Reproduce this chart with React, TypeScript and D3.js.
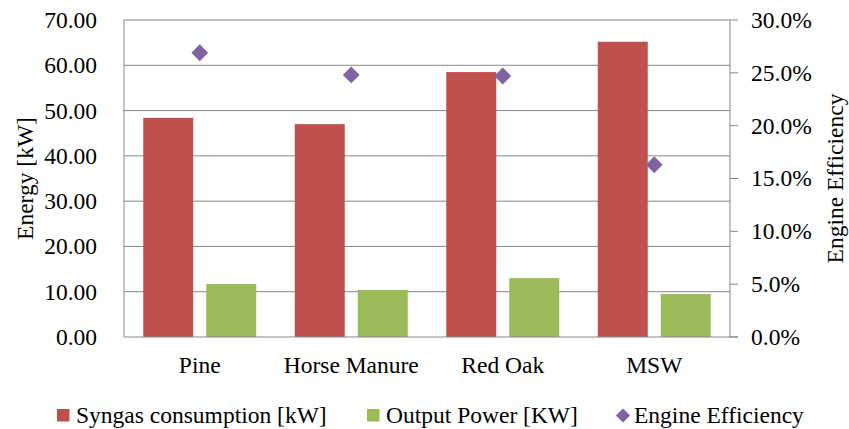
import React, { useEffect, useRef } from 'react';
import * as d3 from 'd3';

const categories = ['Pine', 'Horse Manure', 'Red Oak', 'MSW'];
const syngasConsumption = [48.4, 47.0, 58.5, 65.2];
const outputPower = [11.7, 10.4, 13.0, 9.5];
const engineEfficiency = [0.269, 0.248, 0.247, 0.163];
const leftTicks = [0, 10, 20, 30, 40, 50, 60, 70];
const rightTicks = [0, 0.05, 0.1, 0.15, 0.2, 0.25, 0.3];

const RED = '#C0504D';
const GREEN = '#9BBB59';
const PURPLE = '#8064A2';
const GRID = '#868686';
const FONT = '"Liberation Serif", "Times New Roman", serif';

const App: React.FC = () => {
  const svgRef = useRef<SVGSVGElement>(null);

  useEffect(() => {
    if (!svgRef.current) return;
    const svg = d3.select(svgRef.current);
    svg.selectAll('*').remove();

    const left = 124, right = 730, top = 20, bottom = 337;

    const x = d3.scaleBand().domain(categories).range([left, right]);
    const yL = d3.scaleLinear().domain([0, 70]).range([bottom, top]);
    const yR = d3.scaleLinear().domain([0, 0.3]).range([bottom, top]);

    const barW = 50;
    const gap = 13;
    const pad = (x.bandwidth() - 2 * barW - gap) / 2;

    // gridlines
    svg.append('g')
      .selectAll('line')
      .data(leftTicks.slice(1))
      .enter()
      .append('line')
      .attr('x1', left)
      .attr('x2', right)
      .attr('y1', d => yL(d))
      .attr('y2', d => yL(d))
      .attr('stroke', GRID)
      .attr('stroke-width', 1);

    // bars
    svg.append('g')
      .selectAll('rect')
      .data(categories)
      .enter()
      .append('rect')
      .attr('x', d => (x(d) || 0) + pad)
      .attr('y', (d, i) => yL(syngasConsumption[i]))
      .attr('width', barW)
      .attr('height', (d, i) => bottom - yL(syngasConsumption[i]))
      .attr('fill', RED);

    svg.append('g')
      .selectAll('rect')
      .data(categories)
      .enter()
      .append('rect')
      .attr('x', d => (x(d) || 0) + pad + barW + gap)
      .attr('y', (d, i) => yL(outputPower[i]))
      .attr('width', barW)
      .attr('height', (d, i) => bottom - yL(outputPower[i]))
      .attr('fill', GREEN);

    // axes lines
    svg.append('line')
      .attr('x1', left).attr('x2', left).attr('y1', top).attr('y2', bottom)
      .attr('stroke', GRID);
    svg.append('line')
      .attr('x1', right).attr('x2', right).attr('y1', top).attr('y2', bottom)
      .attr('stroke', GRID);
    svg.append('line')
      .attr('x1', left).attr('x2', right + 8).attr('y1', bottom).attr('y2', bottom)
      .attr('stroke', GRID);

    // right ticks
    svg.append('g')
      .selectAll('line')
      .data(rightTicks)
      .enter()
      .append('line')
      .attr('x1', right)
      .attr('x2', right + 8)
      .attr('y1', d => yR(d))
      .attr('y2', d => yR(d))
      .attr('stroke', GRID);

    // diamonds
    const diamond = d3.symbol().type(d3.symbolDiamond2).size(180);
    svg.append('g')
      .selectAll('path')
      .data(categories)
      .enter()
      .append('path')
      .attr('d', diamond)
      .attr('transform', (d, i) =>
        `translate(${(x(d) || 0) + x.bandwidth() / 2},${yR(engineEfficiency[i])})`)
      .attr('fill', PURPLE);

    const text = svg.append('g')
      .style('font-family', FONT)
      .style('font-size', '23.5px')
      .style('fill', '#000');

    // left labels
    text.selectAll('.lt')
      .data(leftTicks)
      .enter()
      .append('text')
      .attr('x', 97)
      .attr('y', d => yL(d))
      .attr('dy', '0.34em')
      .attr('text-anchor', 'end')
      .text(d => d3.format('.2f')(d));

    // right labels
    text.selectAll('.rt')
      .data(rightTicks)
      .enter()
      .append('text')
      .attr('x', 751)
      .attr('y', d => yR(d))
      .attr('dy', '0.34em')
      .attr('text-anchor', 'start')
      .text(d => d3.format('.1%')(d));

    // categories
    text.selectAll('.ct')
      .data(categories)
      .enter()
      .append('text')
      .attr('x', d => (x(d) || 0) + x.bandwidth() / 2)
      .attr('y', 373)
      .attr('text-anchor', 'middle')
      .text(d => d);

    // axis titles
    text.append('text')
      .attr('transform', `translate(33,${(top + bottom) / 2}) rotate(-90)`)
      .attr('text-anchor', 'middle')
      .text('Energy [kW]');
    text.append('text')
      .attr('transform', `translate(843,${(top + bottom) / 2}) rotate(-90)`)
      .attr('text-anchor', 'middle')
      .text('Engine Efficiency');

    // legend
    const legend = [
      { label: 'Syngas consumption [kW]', color: RED, kind: 'rect', x: 57 },
      { label: 'Output Power [KW]', color: GREEN, kind: 'rect', x: 367 },
      { label: 'Engine Efficiency', color: PURPLE, kind: 'diamond', x: 615 },
    ];
    legend.forEach(item => {
      if (item.kind === 'rect') {
        svg.append('rect')
          .attr('x', item.x).attr('y', 409)
          .attr('width', 12.5).attr('height', 12.5)
          .attr('fill', item.color);
      } else {
        svg.append('path')
          .attr('d', d3.symbol().type(d3.symbolDiamond2).size(128)())
          .attr('transform', `translate(${item.x + 8},415.5)`)
          .attr('fill', item.color);
      }
      text.append('text')
        .attr('x', item.x + 19)
        .attr('y', 423)
        .text(item.label);
    });
  }, []);

  return (
    <div style={{ position: 'absolute', left: 0, top: 0 }}>
      <svg ref={svgRef} width={849} height={429} style={{ display: 'block', background: '#fff' }} />
    </div>
  );
};

export default App;
